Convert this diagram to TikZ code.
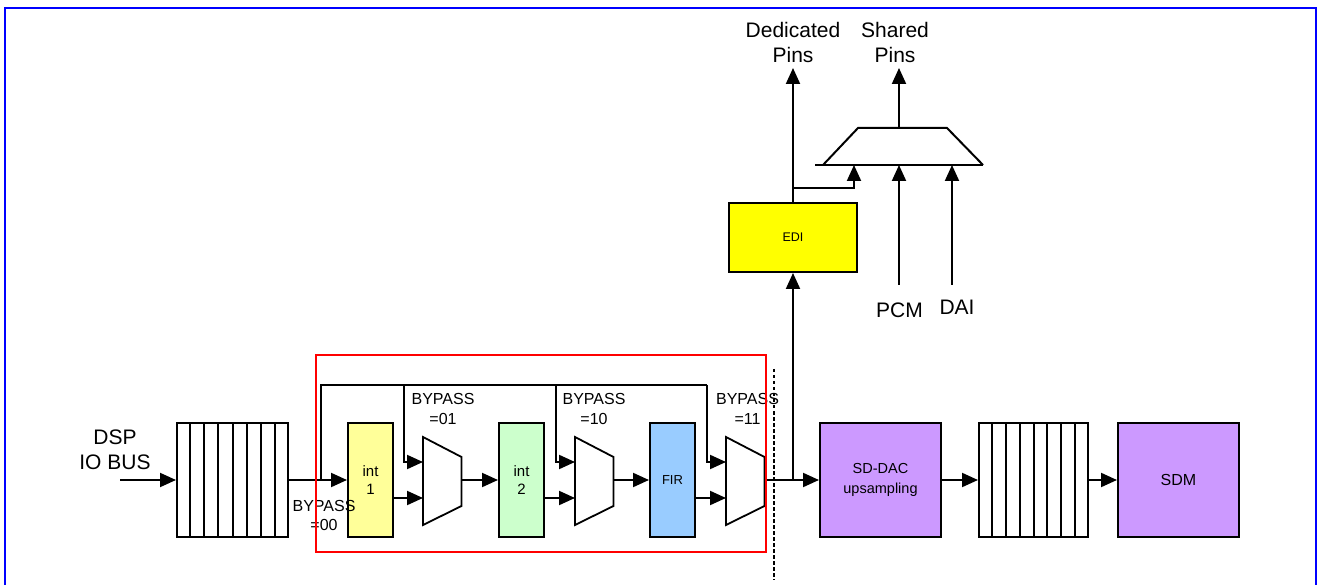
\documentclass[tikz,border=0pt]{standalone}
\usepackage{fontspec}
\setmainfont{Liberation Sans}
\usetikzlibrary{arrows.meta,calc}
\definecolor{frameblue}{HTML}{0000FF}
\definecolor{intyel}{HTML}{FFFF99}
\definecolor{intgreen}{HTML}{CCFFCC}
\definecolor{firblue}{HTML}{99CCFF}
\definecolor{dacpurple}{HTML}{CC99FF}
\definecolor{ediyel}{HTML}{FFFF00}

\begin{document}
\begin{tikzpicture}[
  x=1pt,y=-1pt,
  blk/.style={rectangle,draw,line width=2pt,minimum height=114pt,inner sep=0pt,align=center,
              font=\fontsize{15}{18}\selectfont},
  ln/.style={line width=2pt},
  arr/.style={-{Triangle[length=16pt,width=14pt]},line width=2pt},
  muxs/.style={draw,fill=white,line width=1.8pt},
  lbl/.style={align=center,inner sep=0pt,font=\fontsize{16}{19.5}\selectfont},
  big/.style={align=center,inner sep=0pt,font=\fontsize{21}{25}\selectfont}
]
\useasboundingbox (0,0) rectangle (1318,585);
\draw[frameblue,line width=2.2pt] (5,585) -- (5,8) -- (1316,8) -- (1316,585);

% blocks
\node[blk,minimum width=111pt] (buf1) at (232.5,480) {};
\node[blk,minimum width=45pt,fill=intyel] (int1) at (370.5,480) {int\\1};
\node[blk,minimum width=45pt,fill=intgreen] (int2) at (521.5,480) {int\\2};
\node[blk,minimum width=45pt,fill=firblue,font=\fontsize{13}{15}\selectfont] (fir) at (672.5,480) {FIR};
\node[blk,minimum width=121pt,fill=dacpurple,font=\fontsize{14.5}{20}\selectfont] (sddac) at (880.5,480) {SD-DAC\\upsampling};
\node[blk,minimum width=109pt] (buf2) at (1033.5,480) {};
\node[blk,minimum width=121pt,fill=dacpurple,font=\fontsize{16}{20}\selectfont] (sdm) at (1178.5,480) {SDM};
\node[blk,minimum width=128pt,minimum height=69pt,fill=ediyel,font=\fontsize{12.5}{15}\selectfont] (edi) at (793,237.5) {EDI};

\foreach \b in {buf1,buf2}
  \foreach \i in {1,...,7}
    \draw[ln] ($(\b.north west)!\i/8!(\b.north east)$) -- ($(\b.south west)!\i/8!(\b.south east)$);

% muxes
\foreach \m/\xl in {m1/423, m2/575, m3/726} {
  \draw[muxs] (\xl,437) -- (\xl+38.5,457) -- (\xl+38.5,506) -- (\xl,525) -- cycle;
  \coordinate (\m-a) at (\xl,462);
  \coordinate (\m-b) at (\xl,498);
  \coordinate (\m-o) at (\xl+38.5,480);
}
\draw[ln] (815,165) -- (983,165);
\draw[ln] (823,165) -- (858,128) -- (947,128) -- (983,165);
\coordinate (m4-a) at (854,165);
\coordinate (m4-b) at (899,165);
\coordinate (m4-c) at (952,165);
\coordinate (m4-o) at (899,128);

% labels
\node[big] (dsp) at (115,450) {DSP\\IO BUS};
\node[lbl] (bp00) at (324,515.5) {BYPASS\\=00};
\node[lbl] (bp01) at (443,409) {BYPASS\\=01};
\node[lbl] (bp10) at (594,409) {BYPASS\\=10};
\node[lbl] (bp11) at (747.5,409) {BYPASS\\=11};
\node[big] (dpins) at (793,42.5) {Dedicated\\Pins};
\node[big] (spins) at (895,42.5) {Shared\\Pins};
\node[big] (pcm) at (899.5,310) {PCM};
\node[big] (dai) at (957,307) {DAI};

\coordinate (dspin) at (120,480);
\coordinate (bp0) at (321,480);
\coordinate (bptl) at (321,385);
\coordinate (bptr) at (707,385);
\coordinate (d1) at (404,385);
\coordinate (d2) at (556,385);
\coordinate (jn) at (793,480);
\coordinate (br) at (793,188);
\coordinate (dptip) at (793,68);
\coordinate (sptip) at (899,68);
\coordinate (pcmin) at (899,285);
\coordinate (daiin) at (952,285);

% connectors
\draw[arr] (dspin) -- (buf1.west);
\draw[arr] (buf1.east) -- (int1.west);
\draw[ln] (bp0) -- (bptl) -- (bptr);
\draw[arr] (d1) |- (m1-a);
\draw[arr] (d2) |- (m2-a);
\draw[arr] (bptr) |- (m3-a);
\draw[arr] (int1.east |- m1-b) -- (m1-b);
\draw[arr] (m1-o) -- (int2.west);
\draw[arr] (int2.east |- m2-b) -- (m2-b);
\draw[arr] (m2-o) -- (fir.west);
\draw[arr] (fir.east |- m3-b) -- (m3-b);
\draw[arr] (m3-o) -- (sddac.west);
\draw[arr] (jn) -- (edi.south);
\draw[arr] (edi.north) -- (dptip);
\draw[arr] (br) -| (m4-a);
\draw[arr] (m4-o) -- (sptip);
\draw[arr] (pcmin) -- (m4-b);
\draw[arr] (daiin) -- (m4-c);
\draw[arr] (sddac.east) -- (buf2.west);
\draw[arr] (buf2.east) -- (sdm.west);

\draw[red,line width=1.5pt] (316,355) rectangle (766,552);
\draw[line width=2pt,dash pattern=on 3.5pt off 2.5pt] (774,369) -- (774,580);
\end{tikzpicture}
\end{document}
